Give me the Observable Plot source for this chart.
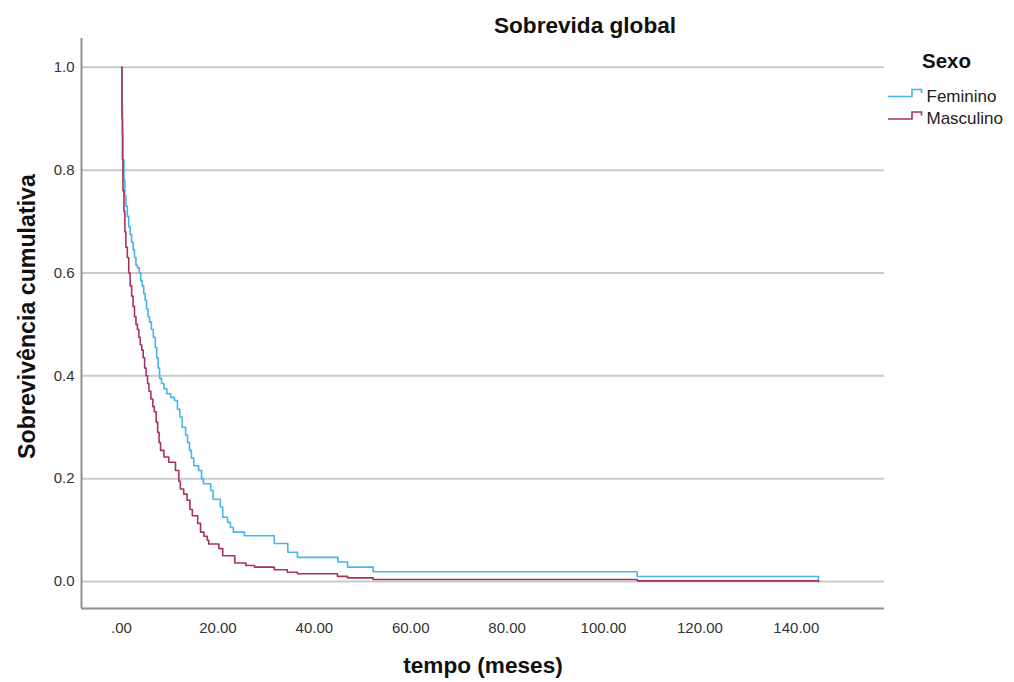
<!DOCTYPE html>
<html>
<head>
<meta charset="utf-8">
<script src="https://cdn.jsdelivr.net/npm/d3@7"></script>
<script src="https://cdn.jsdelivr.net/npm/@observablehq/plot@0.6"></script>
<style>
  html, body { margin: 0; padding: 0; background: #fff; }
  #wrap { position: relative; width: 1014px; height: 682px; }
  #legend { position: absolute; left: 0; top: 0; pointer-events: none; }
</style>
</head>
<body>
<div id="wrap"></div>
<script>
// ---- data ----
const titleText = "Sobrevida global";
const xLabelText = "tempo (meses)";
const yLabelText = "Sobrevivência cumulativa";
const legendTitle = "Sexo";
const sexes = ["Feminino", "Masculino"];
const sexColors = ["#45b5f0", "#a8325e"];

const xTicks = [0, 20, 40, 60, 80, 100, 120, 140];
const yTicks = [0, 0.2, 0.4, 0.6, 0.8, 1.0];
const xDomain = [-8.3, 158.3];
const yDomain = [-0.0525, 1.056];

const femTime = [0, 0.1, 0.2, 0.3, 0.5, 0.7, 0.9, 1.2, 1.5, 1.8, 2.1, 2.4, 2.7, 3.0, 3.3, 3.7, 4.0, 4.3, 4.6, 4.9, 5.2, 5.5, 5.8, 6.2, 6.6, 7.0, 7.3, 7.6, 7.9, 8.3, 8.8, 9.4, 10.2, 11.0, 11.6, 12.1, 12.6, 13.3, 13.7, 14.1, 14.5, 15.0, 16.0, 16.6, 17.0, 18.5, 19.0, 20.5, 21.0, 22.0, 22.6, 23.2, 25.5, 31.7, 34.5, 36.5, 44.9, 46.9, 52.2, 107.0, 144.6];
const femSurv = [1.0, 0.93, 0.87, 0.82, 0.78, 0.75, 0.73, 0.71, 0.69, 0.675, 0.66, 0.645, 0.63, 0.615, 0.61, 0.6, 0.585, 0.575, 0.56, 0.547, 0.53, 0.515, 0.505, 0.49, 0.475, 0.455, 0.435, 0.415, 0.395, 0.385, 0.375, 0.365, 0.358, 0.352, 0.335, 0.32, 0.30, 0.285, 0.27, 0.255, 0.24, 0.225, 0.216, 0.20, 0.19, 0.177, 0.16, 0.145, 0.125, 0.115, 0.105, 0.096, 0.089, 0.074, 0.057, 0.047, 0.038, 0.028, 0.019, 0.0097, 0];

const mascTime = [0, 0.1, 0.2, 0.3, 0.5, 0.7, 0.9, 1.2, 1.5, 1.8, 2.1, 2.4, 2.7, 3.0, 3.3, 3.6, 3.9, 4.2, 4.5, 4.8, 5.1, 5.4, 5.7, 6.1, 6.5, 6.8, 7.2, 7.5, 7.8, 8.1, 8.8, 9.8, 11.2, 11.9, 12.2, 12.9, 13.6, 14.2, 14.7, 15.8, 16.4, 17.1, 17.8, 18.1, 20.2, 21.0, 23.5, 25.8, 27.6, 31.7, 34.4, 36.5, 44.8, 46.9, 52.2, 107.0, 144.6];
const mascSurv = [1.0, 0.9, 0.82, 0.76, 0.72, 0.68, 0.65, 0.63, 0.6, 0.575, 0.555, 0.535, 0.515, 0.5, 0.49, 0.475, 0.46, 0.45, 0.435, 0.415, 0.40, 0.385, 0.37, 0.355, 0.34, 0.33, 0.31, 0.29, 0.27, 0.255, 0.242, 0.232, 0.216, 0.195, 0.18, 0.17, 0.158, 0.14, 0.128, 0.113, 0.096, 0.088, 0.08, 0.073, 0.064, 0.05, 0.036, 0.031, 0.028, 0.023, 0.018, 0.015, 0.010, 0.007, 0.004, 0.0013, 0];

// ---- build table ----
const rows = [
  ...femTime.map((t, i) => ({sexo: sexes[0], t, s: femSurv[i]})),
  ...mascTime.map((t, i) => ({sexo: sexes[1], t, s: mascSurv[i]}))
];

const font = "'Liberation Sans', Arial, sans-serif";

const chart = Plot.plot({
  width: 1014,
  height: 682,
  marginLeft: 81,
  marginRight: 130,
  marginTop: 38,
  marginBottom: 74,
  style: {fontFamily: font, fontSize: "15px", color: "#333", background: "#fff", overflow: "visible"},
  x: {domain: xDomain, ticks: xTicks, tickFormat: d => d === 0 ? ".00" : d.toFixed(2), tickSize: 0, tickPadding: 14, label: null},
  y: {domain: yDomain, ticks: yTicks, tickFormat: d => d.toFixed(1), tickSize: 0, tickPadding: 7, label: null},
  color: {domain: sexes, range: sexColors},
  marks: [
    Plot.ruleY(yTicks, {stroke: "#c9c9c9", strokeWidth: 2}),
    Plot.ruleX([xDomain[0]], {stroke: "#8f8f8f", strokeWidth: 2}),
    Plot.ruleY([yDomain[0]], {stroke: "#8f8f8f", strokeWidth: 2}),
    Plot.line(rows, {x: "t", y: "s", z: "sexo", stroke: "sexo", curve: "step-after", strokeWidth: 1.6}),
    Plot.text([titleText], {frameAnchor: "top", dx: 102, dy: -6, lineAnchor: "bottom", textAnchor: "middle", fontSize: 22.6, fontWeight: "bold", fill: "#111"}),
    Plot.text([xLabelText], {frameAnchor: "bottom", dy: 64, lineAnchor: "bottom", textAnchor: "middle", fontSize: 22.6, fontWeight: "bold", fill: "#111"}),
    Plot.text([yLabelText], {frameAnchor: "left", rotate: -90, dx: -47, dy: -7, lineAnchor: "bottom", textAnchor: "middle", fontSize: 23.2, fontWeight: "bold", fill: "#111"})
  ]
});

const wrap = document.getElementById("wrap");
wrap.appendChild(chart);

// ---- legend ----
const ns = "http://www.w3.org/2000/svg";
const leg = document.createElementNS(ns, "svg");
leg.setAttribute("id", "legend");
leg.setAttribute("width", 1014);
leg.setAttribute("height", 682);
const t0 = document.createElementNS(ns, "text");
t0.setAttribute("x", 922);
t0.setAttribute("y", 68);
t0.setAttribute("font-family", font);
t0.setAttribute("font-size", 20.5);
t0.setAttribute("font-weight", "bold");
t0.setAttribute("fill", "#111");
t0.textContent = legendTitle;
leg.appendChild(t0);
sexes.forEach((name, i) => {
  const base = 96.5 + i * 22.5;
  const p = document.createElementNS(ns, "path");
  p.setAttribute("d", `M888,${base} H912 V${base - 7} H921.5 V${base - 3.5}`);
  p.setAttribute("fill", "none");
  p.setAttribute("stroke", sexColors[i]);
  p.setAttribute("stroke-width", 1.6);
  leg.appendChild(p);
  const tx = document.createElementNS(ns, "text");
  tx.setAttribute("x", 926.5);
  tx.setAttribute("y", base + 5);
  tx.setAttribute("font-family", font);
  tx.setAttribute("font-size", 17);
  tx.setAttribute("fill", "#222");
  tx.textContent = name;
  leg.appendChild(tx);
});
wrap.appendChild(leg);
</script>
</body>
</html>
